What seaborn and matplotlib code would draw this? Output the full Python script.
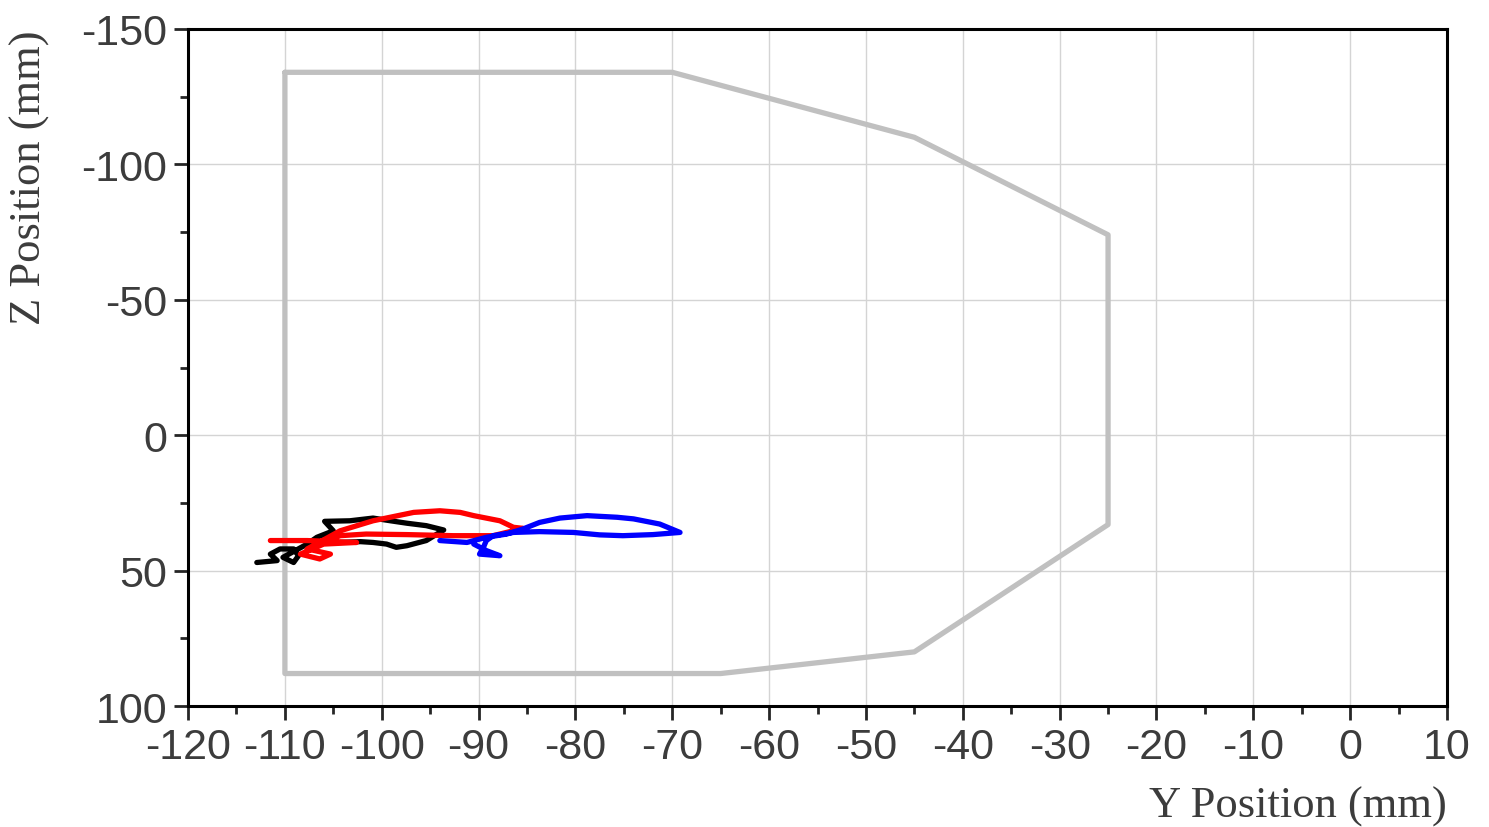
import seaborn as sns
import matplotlib.pyplot as plt
from matplotlib.ticker import MultipleLocator

# boundary outline (Y, Z) in mm
edge_y = [-110, -70, -45, -25, -25, -45, -65, -110, -110]
edge_z = [-134, -134, -110, -74, 33, 80, 88, 88, -134]

# trajectories
black_y = [-112.9, -110.8, -111.5, -110.5, -109.1, -108.6, -109.1, -110.2, -107.7, -106.7,
           -105.0, -105.9, -103.3, -100.9, -99.1, -97.4, -95.4, -93.6, -94.3, -95.4,
           -97.4, -98.5, -99.5, -100.9, -102.2, -104.3]
black_z = [47.0, 46.3, 43.9, 42.0, 42.0, 44.5, 47.0, 45.1, 40.2, 37.7,
           35.3, 31.8, 31.6, 30.6, 31.6, 32.5, 33.4, 35.0, 36.5, 38.9,
           40.8, 41.4, 40.2, 39.6, 39.3, 39.6]

red_y = [-111.5, -107.7, -102.6, -106.0, -108.4, -106.4, -105.3, -107.7, -104.3, -100.9,
         -96.7, -94.0, -91.9, -90.5, -87.8, -86.4, -85.4, -88.5, -92.6, -97.4,
         -101.6, -104.3, -106.4]
red_z = [38.9, 38.9, 39.6, 40.2, 43.9, 45.7, 43.9, 42.0, 35.3, 31.6,
         28.5, 27.9, 28.5, 29.7, 31.6, 34.0, 34.4, 37.1, 37.1, 36.7,
         36.5, 37.1, 40.2]

blue_y = [-94.0, -91.2, -89.2, -87.1, -85.4, -83.7, -81.6, -78.8, -75.7, -74.0,
          -71.3, -69.2, -72.0, -75.1, -77.5, -80.2, -83.7, -86.4, -88.5, -89.2,
          -89.5, -89.9, -87.8, -89.2, -90.5]
blue_z = [38.9, 39.6, 37.7, 36.5, 34.6, 32.2, 30.6, 29.7, 30.3, 30.9,
          32.8, 35.9, 36.7, 37.1, 36.8, 35.9, 35.6, 35.9, 37.1, 38.9,
          41.4, 43.9, 44.5, 42.6, 40.2]

sns.set_style('white')
plt.rcParams['font.family'] = ['Liberation Sans', 'DejaVu Sans']
plt.rcParams['axes.unicode_minus'] = False

fig = plt.figure(figsize=(14.89, 8.28), dpi=100)
ax = fig.add_axes([0.1263, 0.1461, 0.9718 - 0.1263, 0.9638 - 0.1461])

sns.lineplot(x=edge_y, y=edge_z, sort=False, estimator=None, color='#c0c0c0', lw=3.8, ax=ax)
for ty, tz, c in [(black_y, black_z, 'black'), (red_y, red_z, 'red'), (blue_y, blue_z, 'blue')]:
    sns.lineplot(x=ty, y=tz, sort=False, estimator=None, color=c, lw=3.8,
                 solid_capstyle='round', solid_joinstyle='round', ax=ax)

ax.set_xlim(-120, 10)
ax.set_ylim(100, -150)
ax.xaxis.set_major_locator(MultipleLocator(10))
ax.xaxis.set_minor_locator(MultipleLocator(5))
ax.yaxis.set_major_locator(MultipleLocator(50))
ax.yaxis.set_minor_locator(MultipleLocator(25))
ax.grid(True, which='major', color='#d4d4d4', lw=1)
ax.set_axisbelow(True)

for s in ax.spines.values():
    s.set_color('black')
    s.set_linewidth(2.2)
ax.tick_params(which='major', direction='out', length=10, width=2, pad=5,
               labelsize=31, labelcolor='#3c3c3c', bottom=True, left=True)
ax.tick_params(which='minor', direction='out', length=6, width=2, bottom=True, left=True)

ax.set_xlabel('')
ax.set_ylabel('')
fig.text(0.9718, 0.026, 'Y Position (mm)', ha='right', va='center', fontsize=32,
         color='#3c3c3c', family=['Liberation Serif', 'DejaVu Serif'])
fig.text(0.02, 0.9638, 'Z Position (mm)', rotation=90, ha='center', va='top', fontsize=32,
         color='#3c3c3c', family=['Liberation Serif', 'DejaVu Serif'])

fig.savefig('out.png', dpi=100)
